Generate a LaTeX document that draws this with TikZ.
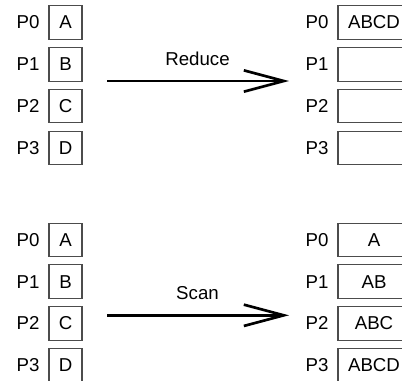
\documentclass[tikz,border=0pt]{standalone}
\usepackage{fontspec}
\setmainfont{Liberation Sans}
\usetikzlibrary{arrows.meta}
\begin{document}
\begin{tikzpicture}[x=0.75pt,y=-0.75pt,
  every node/.style={font=\fontsize{14pt}{17pt}\selectfont, inner sep=0pt},
  cell/.style={draw=black!70, line width=0.8pt, minimum height=25.2pt},
  small/.style={cell, minimum width=24.75pt},
  wide/.style={cell, minimum width=54pt},
  plabel/.style={anchor=center},
  bigarrow/.style={line width=2pt, -{Straight Barb[length=30pt,width=16pt,line width=2pt]}}]
\useasboundingbox (0,0) rectangle (402,380);
\clip (0,0) rectangle (402,380);

% Reduce: input column
\foreach \i/\t in {0/A,1/B,2/C,3/D}{
  \node[small] (ra\i) at (65.5,{22.5+41.8*\i}) {\t};
  \node[plabel] (rla\i) at (28,{22.5+41.8*\i}) {P\i};
}
% Reduce: output column
\foreach \i/\t in {0/ABCD,1/,2/,3/}{
  \node[wide] (rb\i) at (374,{22.5+41.8*\i}) {\t};
  \node[plabel] (rlb\i) at (317,{22.5+41.8*\i}) {P\i};
}
\coordinate (rs) at (107,81);
\coordinate (re) at (289,81);
\draw[bigarrow] (rs) -- (re);
\node (rt) at (197.5,58.8) {Reduce};

% Scan: input column
\foreach \i/\t in {0/A,1/B,2/C,3/D}{
  \node[small] (sa\i) at (65.5,{240+41.7*\i}) {\t};
  \node[plabel] (sla\i) at (28,{240+41.7*\i}) {P\i};
}
% Scan: output column
\foreach \i/\t in {0/A,1/AB,2/ABC,3/ABCD}{
  \node[wide] (sb\i) at (374,{240+41.7*\i}) {\t};
  \node[plabel] (slb\i) at (317,{240+41.7*\i}) {P\i};
}
\coordinate (ss) at (107,315.3);
\coordinate (se) at (289,315.3);
\draw[bigarrow] (ss) -- (se);
\node (st) at (197.5,292.7) {Scan};
\end{tikzpicture}
\end{document}
